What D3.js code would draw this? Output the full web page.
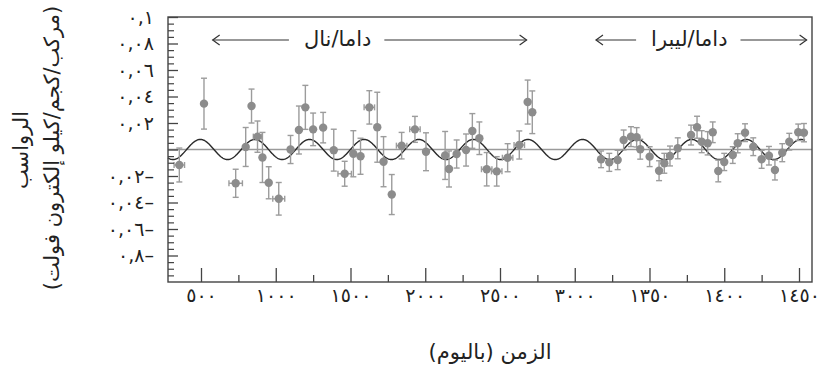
<!DOCTYPE html>
<html><head><meta charset="utf-8">
<script src="https://cdn.jsdelivr.net/npm/d3@7"></script>
<style>body{margin:0;background:#fff} svg{display:block}</style>
</head><body><svg id="c" width="825" height="375"></svg>
<script>
// ---- data (days, residual rate, errors) ----
const days = [355,520,732,799,838,878,911,953,1020,1099,1155,1198,1250,1317,1388,1461,1519,1567,1626,1679,1721,1776,1842,1931,2005,2133,2159,2210,2273,2315,2362,2411,2478,2551,2629,2685,2716,
  3176,3231,3287,3327,3376,3414,3438,3501,3564,3599,3637,3689,3778,3818,3849,3889,3923,3960,4000,4057,4090,4139,4194,4250,4299,4339,4388,4435,4495,4533];
const values = [-0.0117,0.0346,-0.0255,0.0019,0.0328,0.0097,-0.006,-0.0251,-0.0372,0.0,0.0147,0.0318,0.0152,0.0165,-0.0005,-0.0183,-0.0032,-0.0051,0.0318,0.0168,-0.0092,-0.034,0.0029,0.0152,-0.0017,-0.0045,-0.0147,-0.0034,-0.0004,0.014,0.0085,-0.0149,-0.0165,-0.0062,0.0034,0.0358,0.0281,
  -0.0074,-0.0097,-0.0079,0.0072,0.0097,0.0092,0.0002,-0.0054,-0.016,-0.0104,-0.0049,0.0009,0.0109,0.0168,0.0059,0.0047,0.013,-0.0162,-0.0094,-0.0042,0.0047,0.0127,0.0021,-0.0074,-0.0047,-0.0155,-0.0024,0.0059,0.013,0.0127];
const errors = [0.0128,0.0192,0.0106,0.0147,0.0128,0.0118,0.0189,0.0121,0.0123,0.0106,0.0181,0.0166,0.0123,0.0115,0.0158,0.0094,0.0174,0.0136,0.0126,0.0264,0.0189,0.0151,0.01,0.0098,0.0143,0.0181,0.0136,0.0106,0.0121,0.0131,0.0123,0.0126,0.0111,0.0106,0.0106,0.0166,0.0161,
  0.0063,0.0068,0.0073,0.0075,0.0075,0.0073,0.0075,0.0075,0.0075,0.0075,0.0075,0.0079,0.0075,0.0083,0.0083,0.0088,0.0078,0.0082,0.0065,0.0063,0.0072,0.0067,0.0067,0.0068,0.007,0.0075,0.0068,0.0063,0.0062,0.0069];
const dayErrors = [35,0,45,0,0,28,0,0,40,0,0,0,0,0,0,45,0,0,35,0,0,0,35,35,0,0,0,0,0,0,0,35,35,35,35,0,0,
  0,0,0,0,0,0,0,0,0,0,0,0,0,0,0,0,0,0,0,0,0,0,0,0,0,0,0,0,0,0];
// fit: A cos(2pi/T (t - t0))
const fitAmplitude = 0.0076, fitPeriod = 365.25, fitPhase = 130;
const fitRange = [279, 4540];

const xTickValues = [500,1000,1500,2000,2500,3000,3500,4000,4500];
const xTickLabels = ["٥٠٠","١٠٠٠","١٥٠٠","٢٠٠٠","٢٥٠٠","٣٠٠٠","١٣٥٠","١٤٠٠","١٤٥٠"];
const yTickValues = [0.1,0.08,0.06,0.04,0.02,0,-0.02,-0.04,-0.06,-0.08];
const yTickLabels = ["٠,١","٠,٠٨","٠,٠٦","٠,٠٤","٠,٠٢","","٠,٠٢–","٠,٠٤–","٠,٠٦–","٠,٨–"];
const periodLabels = ["داما/نال","داما/ليبرا"];
const periodSpans = [[578,2678],[3142,4551]];
const yTitle = ["الرواسب","(مركب/كجم/كيلو إلكترون فولت)"];
const xTitle = "الزمن (باليوم)";

// ---- layout ----
const L=168, R=812, T=17, B=282;
const FONT = "'DejaVu Sans', sans-serif";
const svg = d3.select("#c");
const x = d3.scaleLinear().domain([500,4500]).range([201,799]);
const y = d3.scaleLinear().domain([-0.1,0.1]).range([B,T]);

// zero line
svg.append("line").attr("x1",L).attr("x2",R).attr("y1",y(0)).attr("y2",y(0))
  .attr("stroke","#9a9a9a").attr("stroke-width",1.4);

// fit curve
const curvePts = d3.range(fitRange[0], fitRange[1], 3).concat([fitRange[1]]);
svg.append("path").datum(curvePts)
  .attr("d", d3.line().x(t=>x(t)).y(t=>y(fitAmplitude*Math.cos(2*Math.PI/fitPeriod*(t-fitPhase)))))
  .attr("fill","none").attr("stroke","#2a2a2a").attr("stroke-width",1.4);

// error bars
const pts = days.map((d,i)=>({d, v:values[i], e:errors[i], de:dayErrors[i]}));
const eg = svg.append("g").attr("stroke","#9c9c9c").attr("stroke-width",1.4).attr("fill","none");
pts.forEach(p=>{
  const cx=x(p.d), y1=y(p.v+p.e), y2=y(p.v-p.e);
  eg.append("line").attr("x1",cx).attr("x2",cx).attr("y1",y1).attr("y2",y2);
  eg.append("line").attr("x1",cx-3).attr("x2",cx+3).attr("y1",y1).attr("y2",y1);
  eg.append("line").attr("x1",cx-3).attr("x2",cx+3).attr("y1",y2).attr("y2",y2);
  if(p.de>0){
    const xa=x(p.d-p.de), xb=x(p.d+p.de), cy=y(p.v);
    eg.append("line").attr("x1",xa).attr("x2",xb).attr("y1",cy).attr("y2",cy);
    eg.append("line").attr("x1",xa).attr("x2",xa).attr("y1",cy-3).attr("y2",cy+3);
    eg.append("line").attr("x1",xb).attr("x2",xb).attr("y1",cy-3).attr("y2",cy+3);
  }
});
svg.append("g").selectAll("circle").data(pts).join("circle")
  .attr("cx",p=>x(p.d)).attr("cy",p=>y(p.v)).attr("r",4.2).attr("fill","#8c8c8c");

// axes
const xMinor = d3.range(750,4500,500);
svg.append("g").attr("transform",`translate(0,${B})`)
  .call(d3.axisBottom(x).tickValues(xMinor).tickSize(-7).tickFormat(""))
  .call(g=>g.select(".domain").remove())
  .call(g=>g.selectAll("line").attr("stroke","#444").attr("stroke-width",1.3));
svg.append("g").attr("transform",`translate(0,${B})`)
  .call(d3.axisBottom(x).tickValues(xTickValues).tickSize(-14).tickPadding(7).tickFormat((d,i)=>xTickLabels[i]))
  .call(g=>g.select(".domain").remove())
  .call(g=>g.selectAll("line").attr("stroke","#444").attr("stroke-width",1.3))
  .call(g=>g.selectAll("text").attr("font-family",FONT).attr("font-size",19).attr("fill","#222"));

const yMinor = d3.range(-0.1,0.1001,0.005).filter(v=>Math.abs(Math.round(v*50)-v*50)>1e-6);
svg.append("g").attr("transform",`translate(${L},0)`)
  .call(d3.axisLeft(y).tickValues(yMinor).tickSize(-6).tickFormat(""))
  .call(g=>g.select(".domain").remove())
  .call(g=>g.selectAll("line").attr("stroke","#444").attr("stroke-width",1.2));
svg.append("g").attr("transform",`translate(${L},0)`)
  .call(d3.axisLeft(y).tickValues(yTickValues).tickSize(-10).tickPadding(14).tickFormat((d,i)=>yTickLabels[i]))
  .call(g=>g.select(".domain").remove())
  .call(g=>g.selectAll("line").attr("stroke","#444").attr("stroke-width",1.3))
  .call(g=>g.selectAll("text").attr("font-family",FONT).attr("font-size",19).attr("fill","#222").attr("direction","ltr"));

// frame
svg.append("rect").attr("x",L).attr("y",T).attr("width",R-L).attr("height",B-T)
  .attr("fill","none").attr("stroke","#444").attr("stroke-width",1.4);

// period annotations
const ay = 40;
periodLabels.forEach((lab,i)=>{
  const [a,b] = periodSpans[i];
  const xa=x(a), xb=x(b), cx=(xa+xb)/2 + (i===0? -32 : -12);
  const t = svg.append("text").attr("x",cx).attr("y",ay).attr("dy","0.3em")
    .attr("text-anchor","middle").attr("font-family",FONT).attr("font-size",21).attr("fill","#222")
    .attr("direction","rtl").text(lab);
  const bb = t.node().getBBox();
  const g = svg.append("g").attr("stroke","#333").attr("stroke-width",1.2).attr("fill","none");
  g.append("line").attr("x1",xa).attr("x2",bb.x-15).attr("y1",ay).attr("y2",ay);
  g.append("line").attr("x1",bb.x+bb.width+13).attr("x2",xb).attr("y1",ay).attr("y2",ay);
  g.append("path").attr("d",`M${xa+7},${ay-5}L${xa},${ay}L${xa+7},${ay+5}`);
  g.append("path").attr("d",`M${xb-7},${ay-5}L${xb},${ay}L${xb-7},${ay+5}`);
});

// titles
svg.append("text").attr("transform","translate(21,150) rotate(-90)").attr("text-anchor","middle")
  .attr("dy","0.35em").attr("font-family",FONT).attr("font-size",21).attr("fill","#222").text(yTitle[0]);
svg.append("text").attr("transform","translate(52,148) rotate(-90)").attr("text-anchor","middle")
  .attr("dy","0.35em").attr("font-family",FONT).attr("font-size",21).attr("fill","#222").text(yTitle[1]);
svg.append("text").attr("x",490).attr("y",352).attr("dy","0.35em").attr("text-anchor","middle")
  .attr("font-family",FONT).attr("font-size",21).attr("fill","#222").attr("direction","rtl").text(xTitle);
</script></body></html>
